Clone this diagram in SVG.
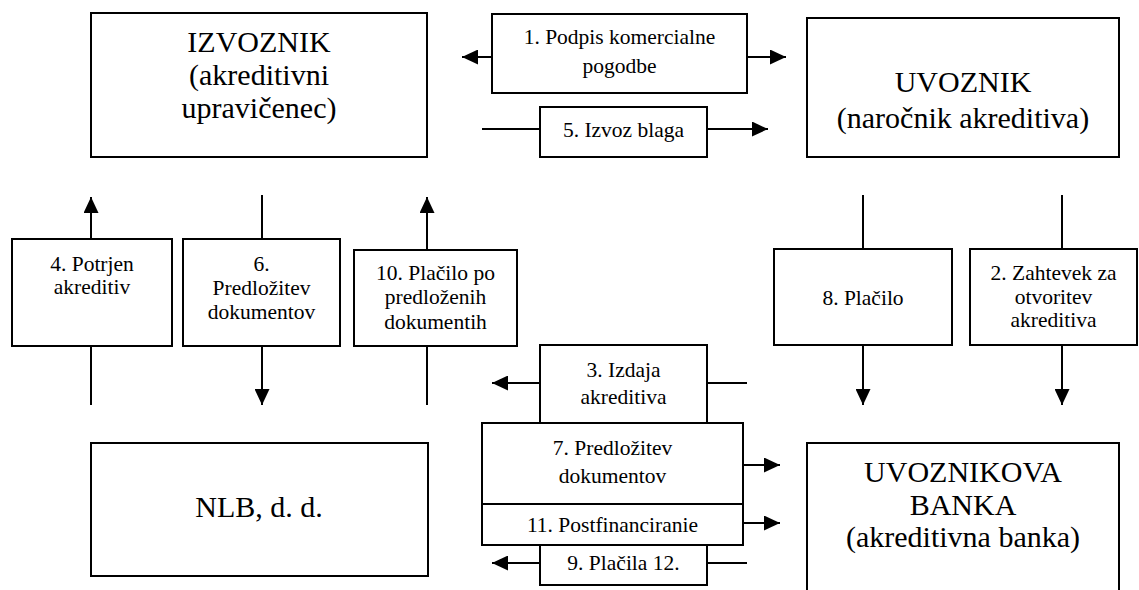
<svg xmlns="http://www.w3.org/2000/svg" width="1139" height="590" viewBox="0 0 1139 590">
<style>
.box{fill:#fff;stroke:#000;stroke-width:2}
text{fill:#000;text-anchor:middle}
.big{font-size:30px}
.sm{font-size:21.5px}
.ln{stroke:#000;stroke-width:2;fill:none}
.ar{stroke:#000;stroke-width:2;fill:none;marker-end:url(#ah)}
</style>
<defs>
<marker id="ah" markerUnits="userSpaceOnUse" markerWidth="16" markerHeight="15" refX="16" refY="7.5" orient="auto">
<path d="M0,0 L16,7.5 L0,15 Z" fill="#000"/>
</marker>
</defs>
<rect width="1139" height="590" fill="#fff"/>

<g id="connectors">
<line class="ar" x1="492" y1="57" x2="462" y2="57"/>
<line class="ar" x1="747" y1="57" x2="786" y2="57"/>
<line class="ln" x1="482" y1="129" x2="540" y2="129"/>
<line class="ar" x1="707" y1="129" x2="768" y2="129"/>
<line class="ar" x1="91" y1="239" x2="91" y2="197"/>
<line class="ln" x1="91" y1="346" x2="91" y2="405"/>
<line class="ln" x1="262" y1="195" x2="262" y2="239"/>
<line class="ar" x1="262" y1="346" x2="262" y2="405"/>
<line class="ar" x1="427" y1="250" x2="427" y2="197"/>
<line class="ln" x1="427" y1="346" x2="427" y2="405"/>
<line class="ln" x1="863" y1="195" x2="863" y2="249"/>
<line class="ar" x1="863" y1="345" x2="863" y2="405"/>
<line class="ln" x1="1062" y1="195" x2="1062" y2="249"/>
<line class="ar" x1="1062" y1="345" x2="1062" y2="405"/>
<line class="ar" x1="540" y1="383" x2="492" y2="383"/>
<line class="ln" x1="707" y1="383" x2="747" y2="383"/>
<line class="ar" x1="743" y1="465" x2="780" y2="465"/>
<line class="ar" x1="743" y1="523" x2="780" y2="523"/>
<line class="ar" x1="540" y1="563" x2="492" y2="563"/>
<line class="ln" x1="707" y1="563" x2="747" y2="563"/>
</g>

<g font-family="Liberation Serif, Times New Roman, Tinos, Noto Serif, DejaVu Serif, serif">
<g id="izvoznik">
<rect class="box" x="91" y="13" width="336" height="144"/>
<text class="big" x="259" y="52">IZVOZNIK</text>
<text class="big" x="259" y="85">(akreditivni</text>
<text class="big" x="259" y="118">upravičenec)</text>
</g>

<g id="uvoznik">
<rect class="box" x="807" y="18" width="312" height="139"/>
<text class="big" x="963" y="92">UVOZNIK</text>
<text class="big" x="963" y="128">(naročnik akreditiva)</text>
</g>

<g id="step1">
<rect class="box" x="492" y="14" width="255" height="79"/>
<text class="sm" x="619.5" y="44">1. Podpis komercialne</text>
<text class="sm" x="619.5" y="73">pogodbe</text>
</g>

<g id="step5">
<rect class="box" x="540" y="107" width="167" height="50"/>
<text class="sm" x="623.5" y="137">5. Izvoz blaga</text>
</g>

<g id="step4">
<rect class="box" x="12" y="239" width="160" height="107"/>
<text class="sm" x="92" y="271">4. Potrjen</text>
<text class="sm" x="92" y="294">akreditiv</text>
</g>

<g id="step6">
<rect class="box" x="183" y="239" width="157" height="107"/>
<text class="sm" x="261.5" y="271">6.</text>
<text class="sm" x="261.5" y="295">Predložitev</text>
<text class="sm" x="261.5" y="319">dokumentov</text>
</g>

<g id="step10">
<rect class="box" x="354" y="250" width="163" height="96"/>
<text class="sm" x="435.5" y="280">10. Plačilo po</text>
<text class="sm" x="435.5" y="304">predloženih</text>
<text class="sm" x="435.5" y="329">dokumentih</text>
</g>

<g id="step8">
<rect class="box" x="774" y="249" width="178" height="96"/>
<text class="sm" x="863" y="305">8. Plačilo</text>
</g>

<g id="step2">
<rect class="box" x="970" y="249" width="167" height="96"/>
<text class="sm" x="1053.5" y="280">2. Zahtevek za</text>
<text class="sm" x="1053.5" y="304">otvoritev</text>
<text class="sm" x="1053.5" y="327">akreditiva</text>
</g>

<g id="step3">
<rect class="box" x="540" y="345" width="167" height="78"/>
<text class="sm" x="623.5" y="377">3. Izdaja</text>
<text class="sm" x="623.5" y="404">akreditiva</text>
</g>

<g id="step7">
<rect class="box" x="482" y="423" width="261" height="81"/>
<text class="sm" x="612.5" y="455">7. Predložitev</text>
<text class="sm" x="612.5" y="483">dokumentov</text>
</g>

<g id="step11">
<rect class="box" x="482" y="504" width="261" height="41"/>
<text class="sm" x="612.5" y="532">11. Postfinanciranie</text>
</g>

<g id="step9">
<rect class="box" x="540" y="545" width="167" height="40"/>
<text class="sm" x="623.5" y="570">9. Plačila 12.</text>
</g>

<g id="nlb">
<rect class="box" x="91" y="443" width="337" height="133"/>
<text class="big" x="259" y="517">NLB, d. d.</text>
</g>

<g id="uvoznikova-banka">
<rect class="box" x="807" y="443" width="312" height="160"/>
<text class="big" x="963" y="482">UVOZNIKOVA</text>
<text class="big" x="963" y="515">BANKA</text>
<text class="big" x="963" y="547">(akreditivna banka)</text>
</g>
</g>
</svg>
